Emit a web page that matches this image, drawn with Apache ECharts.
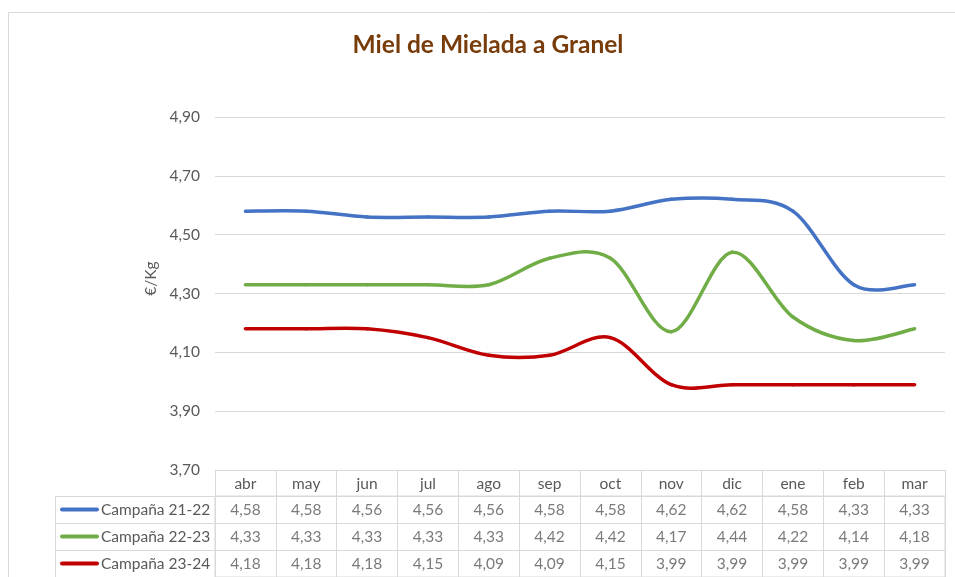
<!DOCTYPE html>
<html>
<head>
<meta charset="utf-8">
<script src="https://cdn.jsdelivr.net/npm/echarts@6/dist/echarts.min.js"></script>
<style>
  html, body { margin: 0; background: #fff; }
  #chart { width: 955px; height: 577px; }
</style>
</head>
<body>
<div id="chart"></div>
<script>
// datos de la tabla
const months = ['abr', 'may', 'jun', 'jul', 'ago', 'sep', 'oct', 'nov', 'dic', 'ene', 'feb', 'mar'];
const seriesNames = ['Campaña 21-22', 'Campaña 22-23', 'Campaña 23-24'];
const campana2122 = [4.58, 4.58, 4.56, 4.56, 4.56, 4.58, 4.58, 4.62, 4.62, 4.58, 4.33, 4.33];
const campana2223 = [4.33, 4.33, 4.33, 4.33, 4.33, 4.42, 4.42, 4.17, 4.44, 4.22, 4.14, 4.18];
const campana2324 = [4.18, 4.18, 4.18, 4.15, 4.09, 4.09, 4.15, 3.99, 3.99, 3.99, 3.99, 3.99];
const yMin = 3.7;
const yMax = 4.9;
const yStep = 0.2;

const colors = ['#4472C4', '#70AD47', '#C00000'];
const allValues = [campana2122, campana2223, campana2324];
const border = '#d9d9d9';
const textColor = '#595959';
const font = 'Lato';
const fs = 15.5;

const fmt = (v) => v.toFixed(2).replace('.', ',');

const chart = echarts.init(document.getElementById('chart'));

// celdas de la tabla de datos
const cells = [];
allValues.forEach((vals, s) => {
  vals.forEach((v, m) => cells.push([m, s, v]));
});

// curva suavizada tipo Excel (Catmull-Rom), un tramo por punto
const smoothSegment = (color) => (params, api) => {
  const n = params.dataInsideLength;
  const i = params.dataIndexInside;
  if (i >= n - 1) return null;
  const pt = (j) => {
    j = Math.max(0, Math.min(n - 1, j));
    return api.coord([api.value(0, j), api.value(1, j)]);
  };
  const p0 = pt(i - 1), p1 = pt(i), p2 = pt(i + 1), p3 = pt(i + 2);
  return {
    type: 'bezierCurve',
    shape: {
      x1: p1[0], y1: p1[1],
      x2: p2[0], y2: p2[1],
      cpx1: p1[0] + (p2[0] - p0[0]) / 6, cpy1: p1[1] + (p2[1] - p0[1]) / 6,
      cpx2: p2[0] - (p3[0] - p1[0]) / 6, cpy2: p2[1] - (p3[1] - p1[1]) / 6,
    },
    style: { stroke: color, lineWidth: 3.5, fill: null, lineCap: 'round' },
  };
};

const rich = {
  name: { color: textColor, fontSize: fs, fontFamily: font, verticalAlign: 'middle', padding: [0, 0, 0, 2] },
};
colors.forEach((c, i) => {
  rich['l' + i] = { width: 39, height: 4, backgroundColor: c, borderRadius: 2, verticalAlign: 'middle' };
});

const option = {
  animation: false,
  textStyle: { fontFamily: font },
  title: {
    text: 'Miel de Mielada a Granel',
    left: 483,
    top: 28,
    textAlign: 'center',
    textStyle: { color: '#783C0A', fontSize: 24.5, fontWeight: 'bold', fontFamily: font },
  },
  graphic: [
    {
      type: 'rect',
      shape: { x: 8.5, y: 12.5, width: 1000, height: 600 },
      style: { fill: 'none', stroke: border, lineWidth: 1 },
      silent: true,
    },
    {
      type: 'line',
      shape: { x1: 55.5, y1: 496, x2: 55.5, y2: 600 },
      style: { stroke: border, lineWidth: 1 },
      silent: true,
    },
  ],
  grid: [
    { left: 215, right: 10, top: 117, height: 353 },
    { left: 215, right: 10, top: 496, height: 81, show: true, borderColor: border, borderWidth: 1 },
  ],
  xAxis: [
    {
      type: 'category',
      gridIndex: 0,
      data: months,
      boundaryGap: true,
      axisLine: { lineStyle: { color: border } },
      axisTick: { show: true, interval: 0, length: 26, lineStyle: { color: border } },
      axisLabel: { color: textColor, fontSize: fs, margin: 6, interval: 0 },
    },
    {
      type: 'category',
      gridIndex: 1,
      data: months,
      boundaryGap: true,
      axisLine: { show: false },
      axisTick: { show: false },
      axisLabel: { show: false },
      splitLine: { show: true, interval: 0, lineStyle: { color: border } },
    },
  ],
  yAxis: [
    {
      type: 'value',
      gridIndex: 0,
      min: yMin,
      max: yMax,
      interval: yStep,
      name: '€/Kg',
      nameLocation: 'middle',
      nameRotate: 90,
      nameGap: 51,
      nameTextStyle: { color: textColor, fontSize: fs, padding: [0, 0, 0, 30] },
      axisLine: { show: false },
      axisTick: { show: false },
      axisLabel: { color: textColor, fontSize: fs, margin: 15, formatter: fmt },
      splitLine: { lineStyle: { color: border } },
    },
    {
      type: 'category',
      gridIndex: 1,
      data: seriesNames,
      inverse: true,
      axisLine: { show: false },
      axisTick: { show: true, interval: 0, length: 160, lineStyle: { color: border } },
      axisLabel: {
        align: 'left',
        margin: 155,
        formatter: (v, i) => '{l' + i + '|}{name|' + v + '}',
        rich: rich,
      },
      splitLine: { show: true, interval: 0, lineStyle: { color: border } },
    },
  ],
  series: [
    ...seriesNames.map((name, i) => ({
      name: name,
      type: 'custom',
      xAxisIndex: 0,
      yAxisIndex: 0,
      data: allValues[i].map((v, m) => [m, v]),
      renderItem: smoothSegment(colors[i]),
      silent: true,
    })),
    {
      type: 'scatter',
      xAxisIndex: 1,
      yAxisIndex: 1,
      data: cells,
      symbolSize: 0,
      silent: true,
      label: {
        show: true,
        position: 'inside',
        color: textColor,
        fontSize: fs,
        formatter: (p) => fmt(p.value[2]),
      },
    },
  ],
};

chart.setOption(option);
</script>
</body>
</html>
